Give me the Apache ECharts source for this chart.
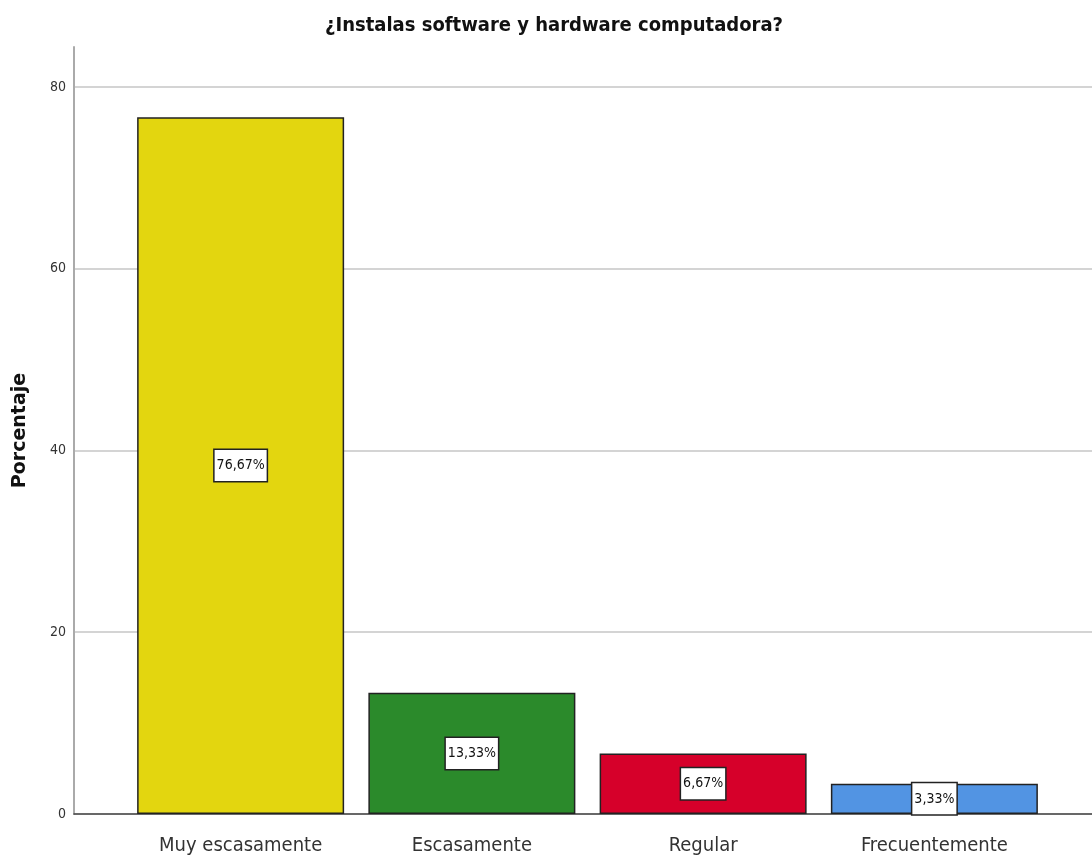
<!DOCTYPE html>
<html>
<head>
<meta charset="utf-8">
<script src="https://cdn.jsdelivr.net/npm/echarts@6/dist/echarts.min.js"></script>
<style>
  html, body { margin: 0; padding: 0; background: #fff; }
</style>
</head>
<body>
<div id="main" style="width:1092px;height:863px;"></div>
<script>
var categories = ["Muy escasamente", "Escasamente", "Regular", "Frecuentemente"];
var values = [76.67, 13.33, 6.67, 3.33];
var barColors = ["#e3d60f", "#2b8a2b", "#d6002a", "#5294e3"];

var narrow = "'DejaVu Sans Condensed', 'Liberation Sans Narrow', 'Liberation Sans', sans-serif";

var chart = echarts.init(document.getElementById("main"));

var option = {
  backgroundColor: "#fff",
  animation: false,
  title: {
    text: "¿Instalas software y hardware computadora?",
    left: 549,
    textAlign: "center",
    top: 11,
    textStyle: {
      fontFamily: narrow,
      fontSize: 20,
      fontWeight: "bold",
      color: "#111"
    }
  },
  grid: [
    // axes frame
    { left: 74, right: 0, top: 47, bottom: 49, outerBoundsMode: "none" },
    // bars
    { left: 125, right: 42, top: 47, bottom: 49, outerBoundsMode: "none" }
  ],
  xAxis: [
    {
      gridIndex: 0,
      type: "value",
      min: 0,
      max: 1,
      axisLine: { show: true, onZero: false, lineStyle: { color: "#444", width: 1.5 } },
      axisTick: { show: false },
      axisLabel: { show: false },
      splitLine: { show: false }
    },
    {
      gridIndex: 1,
      type: "category",
      data: categories,
      axisLine: { show: false },
      axisTick: { show: false },
      axisLabel: {
        margin: 22,
        fontFamily: narrow,
        fontSize: 20,
        color: "#333"
      }
    }
  ],
  yAxis: [
    {
      gridIndex: 0,
      type: "value",
      min: 0,
      max: 84.4,
      interval: 20,
      name: "Porcentaje",
      nameLocation: "middle",
      nameGap: 44,
      nameTextStyle: {
        fontFamily: "'DejaVu Sans', sans-serif",
        fontSize: 19,
        fontWeight: "bold",
        color: "#111"
      },
      axisLine: { show: true, lineStyle: { color: "#aaa", width: 2 } },
      axisTick: { show: false },
      axisLabel: {
        margin: 8,
        fontFamily: narrow,
        fontSize: 14,
        color: "#333",
        showMaxLabel: false
      },
      splitLine: { show: true, showMaxLine: false, lineStyle: { color: "#d4d4d4", width: 2 } }
    },
    {
      gridIndex: 1,
      type: "value",
      min: 0,
      max: 84.4,
      show: false
    }
  ],
  series: [
    {
      type: "bar",
      xAxisIndex: 1,
      yAxisIndex: 1,
      barWidth: 207,
      data: values.map(function (v, i) {
        return { value: v, itemStyle: { color: barColors[i] } };
      }),
      itemStyle: { borderColor: "#222", borderWidth: 1.5 },
      label: {
        show: true,
        position: "inside",
        formatter: function (p) {
          return p.value.toFixed(2).replace(".", ",") + "%";
        },
        fontFamily: narrow,
        fontSize: 14,
        color: "#111",
        backgroundColor: "#fff",
        borderColor: "#222",
        borderWidth: 1.5,
        padding: [9, 2, 8, 2]
      }
    }
  ]
};

chart.setOption(option);
</script>
</body>
</html>
